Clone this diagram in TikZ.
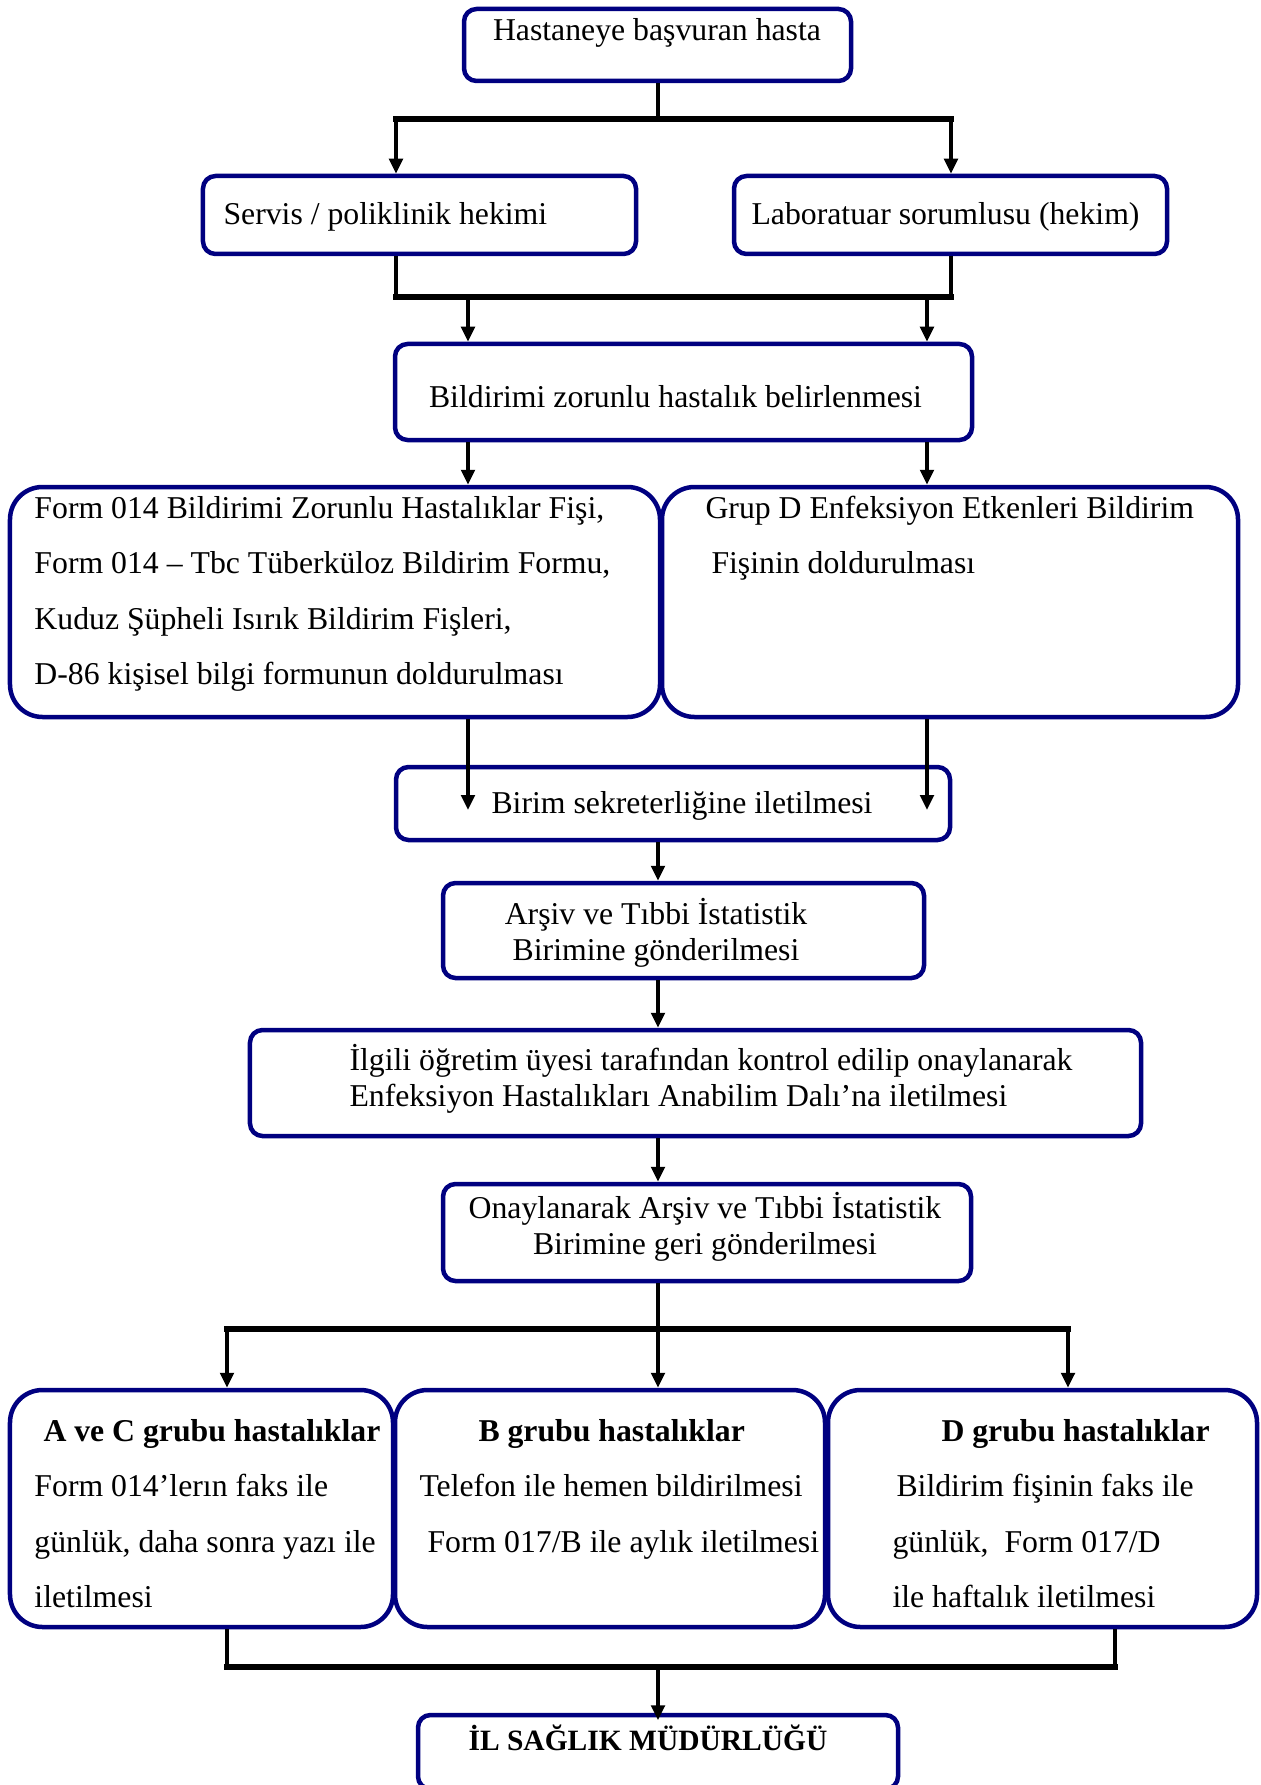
\documentclass[tikz,border=0pt]{standalone}
\usepackage{fontspec}
\setmainfont{Liberation Serif}
\usetikzlibrary{arrows.meta,positioning}
\definecolor{boxblue}{RGB}{0,0,128}

\begin{document}
\begin{tikzpicture}[
  x=0.4pt, y=-0.4pt,
  box/.style={draw=boxblue, line width=1.8pt, rounded corners=5pt, inner sep=0pt},
  bigbox/.style={box, rounded corners=13pt},
  txt/.style={inner sep=0pt, font=\fontsize{12.7}{14.6}\selectfont},
  widetxt/.style={inner sep=0pt, font=\fontsize{12.7}{22.2}\selectfont, align=flush left, text width=300pt, anchor=base west},
  conn/.style={line width=1.5pt},
  bar/.style={line width=2.1pt, line cap=rect},
  arr/.style={-{Triangle[length=6pt,width=5.4pt]}, line width=1.5pt}
]
\useasboundingbox (0,0) rectangle (1260,1785);

% boxes
\node[box, minimum width=154.8pt, minimum height=28.8pt] (hasta) at (657.5,45) {};
\node[box, minimum width=173.2pt, minimum height=31.2pt] (servis) at (419.5,215) {};
\node[box, minimum width=173.2pt, minimum height=31.2pt] (lab) at (950.5,215) {};
\node[box, minimum width=230.8pt, minimum height=38.4pt] (bildirim) at (683.5,392) {};
\node[bigbox, minimum width=260pt, minimum height=92pt] (form) at (335,602) {};
\node[bigbox, minimum width=230.4pt, minimum height=92pt] (grupd) at (950,602) {};
\node[box, minimum width=221.6pt, minimum height=29.2pt] (birim) at (673,803.5) {};
\node[box, minimum width=192.4pt, minimum height=38pt] (arsiv) at (683.5,930.5) {};
\node[box, minimum width=356.4pt, minimum height=42.4pt] (ilgili) at (695.5,1083) {};
\node[box, minimum width=211.2pt, minimum height=38.8pt] (onay) at (707,1232.5) {};
\node[bigbox, minimum width=153.2pt, minimum height=94.8pt] (acgrp) at (201.5,1508.5) {};
\node[bigbox, minimum width=172pt, minimum height=94.8pt] (bgrp) at (610,1508.5) {};
\node[bigbox, minimum width=171.6pt, minimum height=94.8pt] (dgrp) at (1042.5,1508.5) {};
\node[box, minimum width=192pt, minimum height=29.6pt] (il) at (658,1752) {};

% texts
\node[txt, anchor=base] (hasta-t) at (657,41) {Hastaneye başvuran hasta};
\node[txt, anchor=base west] (servis-t) at (223,225) {Servis / poliklinik hekimi};
\node[txt, anchor=base] (lab-t) at (945.5,225) {Laboratuar sorumlusu (hekim)};
\node[txt, anchor=base] (bildirim-t) at (675.5,407) {Bildirimi zorunlu hastalık belirlenmesi};
\node[widetxt] (form-t) at (34,518) {Form 014 Bildirimi Zorunlu Hastalıklar Fişi,\\
  Form 014 – Tbc Tüberküloz Bildirim Formu,\\
  Kuduz Şüpheli Isırık Bildirim Fişleri,\\
  D-86 kişisel bilgi formunun doldurulması};
\node[widetxt] (grupd-t) at (705,518) {Grup D Enfeksiyon Etkenleri Bildirim\\
  \hspace*{2.4pt}Fişinin doldurulması};
\node[txt, anchor=base] (birim-t) at (682,813) {Birim sekreterliğine iletilmesi};
\node[txt, anchor=base, align=flush center, text width=300pt] (arsiv-t) at (656,924) {Arşiv ve Tıbbi İstatistik\\ Birimine gönderilmesi};
\node[txt, anchor=base west, align=flush left, text width=400pt] (ilgili-t) at (349,1070) {İlgili öğretim üyesi tarafından kontrol edilip onaylanarak\\ Enfeksiyon Hastalıkları Anabilim Dalı’na iletilmesi};
\node[txt, anchor=base, align=flush center, text width=300pt] (onay-t) at (705,1218) {Onaylanarak Arşiv ve Tıbbi İstatistik\\ Birimine geri gönderilmesi};
\node[widetxt] (acgrp-t) at (34,1441) {\hspace*{3.6pt}\textbf{A ve C grubu hastalıklar}\\
  Form 014’lerın faks ile\\
  günlük, daha sonra yazı ile\\
  iletilmesi};
\node[widetxt] (bgrp-t) at (419,1441) {\hspace*{23.6pt}\textbf{B grubu hastalıklar}\\
  Telefon ile hemen bildirilmesi\\
  \hspace*{3.2pt}Form 017/B ile aylık iletilmesi};
\node[widetxt] (dgrp-t) at (892,1441) {\hspace*{19.6pt}\textbf{D grubu hastalıklar}\\
  \hspace*{1.6pt}Bildirim fişinin faks ile\\
  günlük,\ \ Form 017/D\\
  ile haftalık iletilmesi};
\node[txt, anchor=base, font=\fontsize{11.8}{14}\selectfont\bfseries] (il-t) at (648,1750) {İL SAĞLIK MÜDÜRLÜĞÜ};

% junctions
\coordinate (axis) at (658,0);
\coordinate (j1l) at (396,119);
\coordinate (j1r) at (951,119);
\coordinate (j2l) at (396,297);
\coordinate (j2r) at (951,297);
\coordinate (colL) at (468,297);
\coordinate (colR) at (927,297);
\coordinate (j3l) at (227,1329);
\coordinate (j3r) at (1068,1329);
\coordinate (j4l) at (227,1667);
\coordinate (j4r) at (1115,1667);

% connectors
\draw[conn] (hasta.south -| axis) -- (j1l -| axis);
\draw[bar] (j1l) -- (j1r);
\draw[arr] (j1l) -- (j1l |- servis.north);
\draw[arr] (j1r) -- (j1r |- lab.north);
\draw[conn] (servis.south -| j2l) -- (j2l);
\draw[conn] (lab.south -| j2r) -- (j2r);
\draw[bar] (j2l) -- (j2r);
\draw[arr] (colL) -- (colL |- bildirim.north);
\draw[arr] (colR) -- (colR |- bildirim.north);
\draw[arr] (bildirim.south -| colL) -- (colL |- form.north);
\draw[arr] (bildirim.south -| colR) -- (colR |- grupd.north);
\draw[arr] (form.south -| colL) -- ([yshift=-2.6pt]colL |- birim.center);
\draw[arr] (grupd.south -| colR) -- ([yshift=-2.6pt]colR |- birim.center);
\draw[arr] (birim.south -| axis) -- (arsiv.north -| axis);
\draw[arr] (arsiv.south -| axis) -- (ilgili.north -| axis);
\draw[arr] (ilgili.south -| axis) -- (onay.north -| axis);
\draw[arr] (onay.south -| axis) -- (bgrp.north -| axis);
\draw[bar] (j3l) -- (j3r);
\draw[arr] (j3l) -- (j3l |- acgrp.north);
\draw[arr] (j3r) -- (j3r |- dgrp.north);
\draw[conn] (acgrp.south -| j4l) -- (j4l);
\draw[conn] (dgrp.south -| j4r) -- (j4r);
\draw[bar] (j4l) -- (j4r);
\draw[arr] (j4l -| axis) -- ([yshift=-3pt]il.north -| axis);
\end{tikzpicture}
\end{document}
